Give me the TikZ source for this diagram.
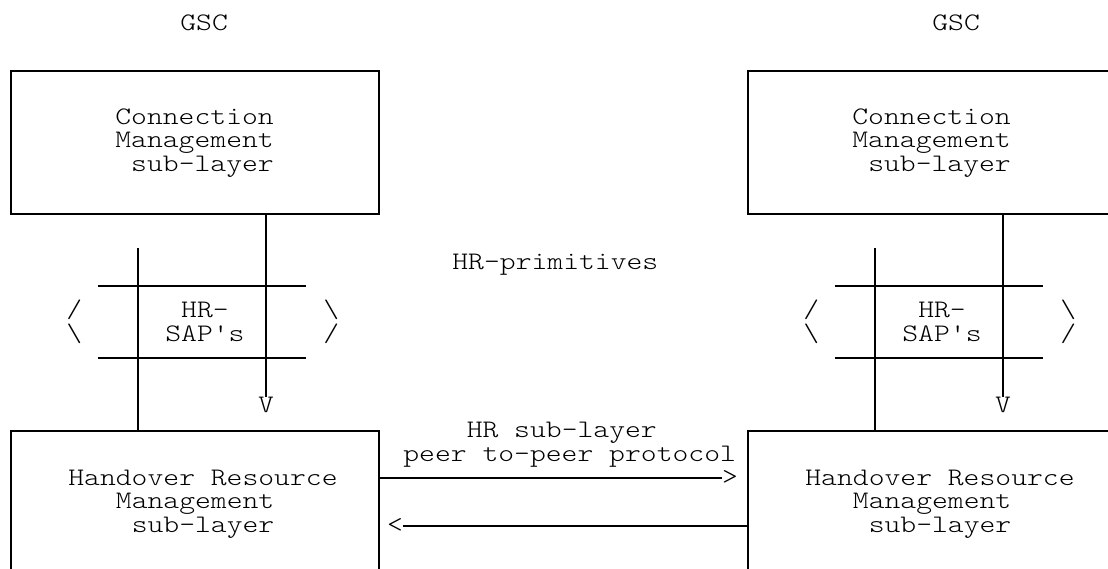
\documentclass[tikz,border=0pt]{standalone}
\usepackage{fontspec}
\setmonofont[FakeStretch=1.197]{lmmonolt10-regular.otf}
\usetikzlibrary{calc}

\tikzset{
  asc/.style={font=\ttfamily\fontsize{12.6}{11.65}\selectfont, inner sep=0pt, align=left},
  layerbox/.style={draw, line width=0.75pt, inner sep=0pt, anchor=north west,
    minimum width=184pt, minimum height=71.5pt},
  link/.style={line width=0.75pt},
}
\newcommand{\sk}{\hspace*{7.92pt}}

\begin{document}
\begin{tikzpicture}[x=0.5pt, y=-0.5pt]
    \useasboundingbox (0,0) rectangle (1108,568);
    \clip (0,0) rectangle (1108,568);

    % Titles
    \node[asc, anchor=base west] (gscl) at (180,30) {GSC};
    \node[asc, anchor=base west] (gscr) at (932,30) {GSC};

    % Both protocol stacks
    \foreach \dx/\s in {0/l,737/r} {
      \begin{scope}[xshift=\dx*0.5pt]
        \node[layerbox] (cm\s) at (10,70) {};
        \node[asc, anchor=base west] (cmt\s) at (115,171) {Connection\\Management\\\sk sub-layer};
        \node[layerbox] (hrm\s) at (10,430) {};
        \node[asc, anchor=base west] (hrmt\s) at (68,532) {Handover Resource\\\sk\sk\sk Management\\\sk\sk\sk\sk sub-layer};

        % Service access points
        \draw[link] (98,286) -- (306,286);
        \draw[link] (98,358) -- (306,358);
        \node[asc, anchor=base west] (sap\s) at (165,341) {\sk HR-\\SAP's};
        \node[asc, anchor=base west] (lbr\s) at (66,341) {/\\\textbackslash};
        \node[asc, anchor=base west] (rbr\s) at (323,341) {\textbackslash\\/};

        % Primitives
        \node[asc] (v\s) at (266,405) {V};
        \coordinate (up\s) at (138,248);
        \draw[link] (cm\s.south -| v\s) -- (v\s.north);
        \draw[link] (up\s) -- (up\s |- hrm\s.north);
      \end{scope}
    }

    \node[asc, anchor=base west] (prim) at (452,269) {HR-primitives};
    \node[asc, anchor=base west] (peer) at (403,461) {\sk\sk\sk\sk HR sub-layer\\peer to-peer protocol};

    % Peer-to-peer arrows
    \node[asc] (gt) at (730,478) {>};
    \node[asc] (lt) at (395,526) {<};
    \draw[link] (hrml.east |- gt) -- (gt.west);
    \draw[link] (hrmr.west |- lt) -- (lt.east);
\end{tikzpicture}
\end{document}
